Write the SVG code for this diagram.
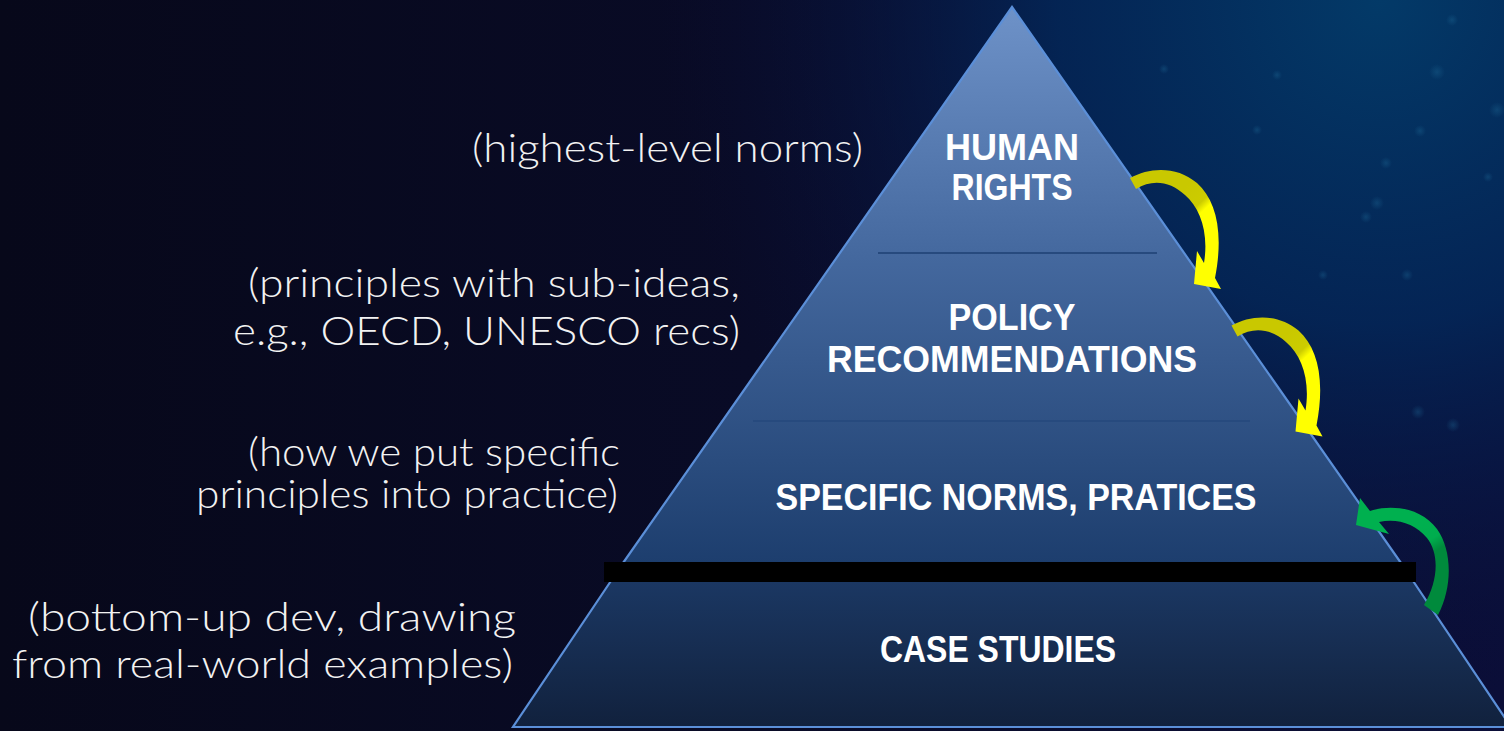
<svg xmlns="http://www.w3.org/2000/svg" width="1504" height="731" viewBox="0 0 1504 731">
  <defs>
    <!-- backdrop -->
    <linearGradient id="bgBase" x1="0" y1="0" x2="1" y2="0">
      <stop offset="0" stop-color="#07081a"/>
      <stop offset="0.5" stop-color="#090b26"/>
      <stop offset="1" stop-color="#0b0e38"/>
    </linearGradient>
    <radialGradient id="bgGlow" gradientUnits="userSpaceOnUse" cx="1380" cy="0" r="720">
      <stop offset="0" stop-color="#033a68" stop-opacity="1"/>
      <stop offset="0.45" stop-color="#03285a" stop-opacity="0.85"/>
      <stop offset="1" stop-color="#0a0d38" stop-opacity="0"/>
    </radialGradient>
    <radialGradient id="speck">
      <stop offset="0" stop-color="#1f6c99" stop-opacity="0.35"/>
      <stop offset="1" stop-color="#1f6c99" stop-opacity="0"/>
    </radialGradient>
    <!-- pyramid fills -->
    <linearGradient id="upperFill" gradientUnits="userSpaceOnUse" x1="0" y1="7" x2="0" y2="563">
      <stop offset="0" stop-color="#6e92c8"/>
      <stop offset="0.45" stop-color="#44689e"/>
      <stop offset="1" stop-color="#1d3e6e"/>
    </linearGradient>
    <linearGradient id="lowerFill" gradientUnits="userSpaceOnUse" x1="0" y1="563" x2="0" y2="727">
      <stop offset="0" stop-color="#1c3a67"/>
      <stop offset="1" stop-color="#11213d"/>
    </linearGradient>
    <!-- arrow fills -->
    <linearGradient id="yellowFill" gradientUnits="userSpaceOnUse" x1="1186" y1="186" x2="1216" y2="218">
      <stop offset="0" stop-color="#c9c800"/>
      <stop offset="0.5" stop-color="#cccc00"/>
      <stop offset="0.68" stop-color="#ffff00"/>
      <stop offset="1" stop-color="#ffff00"/>
    </linearGradient>
    <linearGradient id="greenFill" gradientUnits="userSpaceOnUse" x1="1420" y1="520" x2="1446" y2="562">
      <stop offset="0" stop-color="#00b04f"/>
      <stop offset="0.45" stop-color="#00ad4e"/>
      <stop offset="0.7" stop-color="#008a3c"/>
      <stop offset="1" stop-color="#008a3c"/>
    </linearGradient>
    <path id="curveDown" d="M1130,178 C1150,167 1177,166 1197,183 C1216,200 1224,232 1215,278 L1221,289 L1194,284 L1197,251 L1204,263 C1209,232 1200,208 1185,195 C1170,181 1152,179 1136,189 Z"/>
  </defs>
  <style>
    .tier { stroke: #5b8fd8; stroke-width: 2.2; stroke-linejoin: miter; }
    .divider { stroke: #274a7e; stroke-width: 2; }
    .label { font-family: "Liberation Sans", Arial, sans-serif; font-weight: bold; font-size: 36px; fill: #ffffff; }
    .note { font-family: Lato, "Liberation Sans", Arial, sans-serif; font-weight: 300; font-size: 39px; fill: #f2f2f2; }
  </style>

  <!-- background -->
  <rect x="0" y="0" width="1504" height="731" fill="url(#bgBase)"/>
  <rect x="0" y="0" width="1504" height="731" fill="url(#bgGlow)"/>
  <g id="specks" fill="url(#speck)">
    <circle cx="1437" cy="72" r="8"/>
    <circle cx="1497" cy="110" r="8"/>
    <circle cx="1377" cy="203" r="7"/>
    <circle cx="1386" cy="163" r="6"/>
    <circle cx="1420" cy="131" r="6"/>
    <circle cx="1366" cy="217" r="6"/>
    <circle cx="1407" cy="275" r="6"/>
    <circle cx="1323" cy="275" r="5"/>
    <circle cx="1257" cy="130" r="5"/>
    <circle cx="1277" cy="75" r="5"/>
    <circle cx="1164" cy="69" r="5"/>
    <circle cx="1488" cy="177" r="5"/>
    <circle cx="1418" cy="412" r="7"/>
    <circle cx="1453" cy="425" r="7"/>
    <circle cx="1452" cy="20" r="6"/>
  </g>

  <!-- side notes -->
  <g id="notes">
    <text class="note" x="472" y="162" textLength="391" lengthAdjust="spacingAndGlyphs">(highest-level norms)</text>
    <text class="note" x="248" y="297" textLength="492" lengthAdjust="spacingAndGlyphs">(principles with sub-ideas,</text>
    <text class="note" x="233" y="345" textLength="507" lengthAdjust="spacingAndGlyphs">e.g., OECD, UNESCO recs)</text>
    <text class="note" x="248" y="466" textLength="372" lengthAdjust="spacingAndGlyphs">(how we put specific</text>
    <text class="note" x="196" y="508" textLength="422" lengthAdjust="spacingAndGlyphs">principles into practice)</text>
    <text class="note" x="28" y="631" textLength="488" lengthAdjust="spacingAndGlyphs">(bottom-up dev, drawing</text>
    <text class="note" x="12" y="678" textLength="501" lengthAdjust="spacingAndGlyphs">from real-world examples)</text>
  </g>

  <!-- pyramid -->
  <g id="pyramid-upper">
    <polygon class="tier" points="1012,7 1401,563 623,563" fill="url(#upperFill)"/>
    <line class="divider" x1="878" y1="253" x2="1157" y2="253"/>
    <line class="divider" x1="753" y1="421" x2="1250" y2="421"/>
  </g>
  <g id="pyramid-base">
    <polygon class="tier" points="623,563 1401,563 1511,727 513,727" fill="url(#lowerFill)"/>
  </g>

  <g id="tier-human-rights">
    <text class="label" x="1012" y="160" text-anchor="middle" textLength="134" lengthAdjust="spacingAndGlyphs">HUMAN</text>
    <text class="label" x="1012" y="200" text-anchor="middle" textLength="121" lengthAdjust="spacingAndGlyphs">RIGHTS</text>
  </g>
  <g id="tier-policy">
    <text class="label" x="1012" y="330" text-anchor="middle" textLength="127" lengthAdjust="spacingAndGlyphs">POLICY</text>
    <text class="label" x="1012" y="372" text-anchor="middle" textLength="370" lengthAdjust="spacingAndGlyphs">RECOMMENDATIONS</text>
  </g>
  <g id="tier-norms">
    <text class="label" x="1016" y="510" text-anchor="middle" textLength="481" lengthAdjust="spacingAndGlyphs">SPECIFIC NORMS, PRATICES</text>
  </g>
  <g id="tier-cases">
    <text class="label" x="998" y="662" text-anchor="middle" textLength="236" lengthAdjust="spacingAndGlyphs">CASE STUDIES</text>
  </g>

  <!-- separator bar between the derived tiers and the case studies -->
  <rect id="separator" x="604" y="562" width="812" height="20" fill="#000000"/>

  <!-- connectors -->
  <g id="connectors">
    <use href="#curveDown" fill="url(#yellowFill)"/>
    <use href="#curveDown" fill="url(#yellowFill)" transform="translate(101.5,147.5)"/>
    <path d="M1370,511 C1390,504 1421,507 1437,529 C1452,550 1453,586 1438,615 L1424,605 C1439,580 1439,553 1427,538 C1415,523 1396,518 1379,522 L1389,534 L1356,525 L1360,498 Z" fill="url(#greenFill)"/>
  </g>
</svg>
